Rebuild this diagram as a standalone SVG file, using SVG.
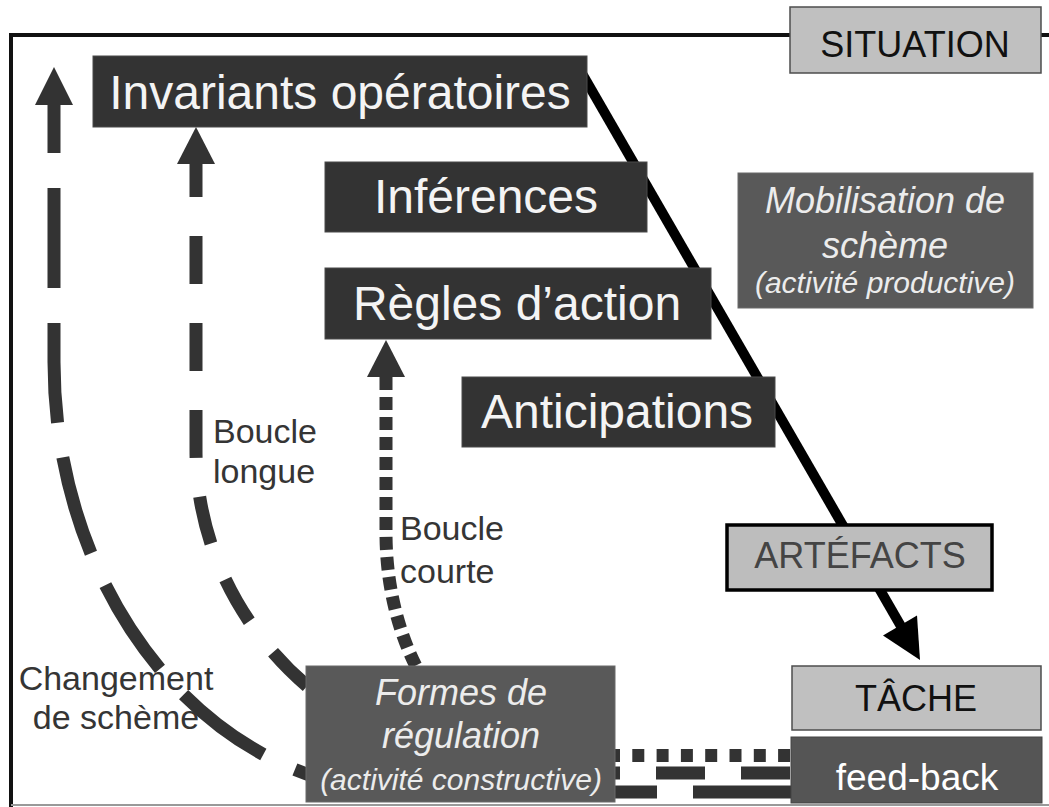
<svg xmlns="http://www.w3.org/2000/svg" width="1049" height="807" viewBox="0 0 1049 807">
<style>
.dk{fill:#333;stroke:#4a4a4a;stroke-width:1}
.md{fill:#595959;stroke:#6a6a6a;stroke-width:1}
.lt{fill:#c0c0c0;stroke:#4d4d4d;stroke-width:1.5}
text{font-family:"Liberation Sans",Arial,Helvetica,sans-serif}
.big{font-size:48px;fill:#f4f4f4;text-anchor:middle}
.cap{font-size:36px;text-anchor:middle}
.it{font-style:italic;fill:#ececec;text-anchor:middle;font-size:36px}
.sm{font-size:30px}
.lbl{font-size:34px;fill:#353535}
.dash{fill:none;stroke:#333;stroke-width:13}
.head{fill:#333}
</style>
<rect width="1049" height="807" fill="#fff"/>
<g id="frame" fill="none">
<path d="M1049,35 H11 V807" stroke="#111" stroke-width="4"/>
<path d="M11,805 H1049" stroke="#999" stroke-width="2"/>
</g>
<g id="connectors">
<path d="M580,70 L902,628" stroke="#000" stroke-width="10" fill="none"/>
<polygon points="920,660 883,635.5 917,615.5" fill="#000"/>
<path class="dash" d="M54,105 V362 A354,430 0 0 0 408,792" stroke-dasharray="100 35" stroke-dashoffset="52"/>
<path class="dash" d="M557,792 H795" stroke-dasharray="100 36" stroke-width="12"/>
<polygon class="head" points="54,67 35,105 73,105"/>
<path class="dash" d="M196,164 V450 A350,323 0 0 0 546,773" stroke-dasharray="48 39" stroke-dashoffset="15"/>
<path class="dash" d="M571,773 H795" stroke-dasharray="49 36" stroke-width="12"/>
<polygon class="head" points="196,127 177,164 215,164"/>
<path class="dash" d="M386,377 V533 A150,222 0 0 0 536,755" stroke-dasharray="13 7"/>
<path class="dash" d="M608,755.5 H795" stroke-dasharray="12 12.3"/>
<polygon class="head" points="386,340 367,377 405,377"/>
</g>
<g id="situation"><rect class="lt" x="790" y="7" width="251" height="66"/><text class="cap" x="915" y="57" fill="#111">SITUATION</text></g>
<g id="invariants"><rect class="dk" x="93" y="56" width="494" height="71"/><text class="big" x="340" y="109">Invariants opératoires</text></g>
<g id="inferences"><rect class="dk" x="325" y="162" width="322" height="70"/><text class="big" x="486" y="213">Inférences</text></g>
<g id="regles"><rect class="dk" x="325" y="268" width="386" height="71"/><text class="big" x="517" y="320">Règles d’action</text></g>
<g id="anticipations"><rect class="dk" x="462" y="377" width="313" height="70"/><text class="big" x="617" y="428">Anticipations</text></g>
<g id="mobilisation"><rect class="md" x="738" y="173" width="295" height="135"/>
<text class="it" x="885" y="213">Mobilisation de</text>
<text class="it" x="885" y="258">schème</text>
<text class="it sm" x="885" y="293">(activité productive)</text></g>
<g id="artefacts"><rect x="727" y="525" width="265" height="65" fill="#bdbdbd" stroke="#000" stroke-width="3.5"/><text class="cap" x="860" y="568" fill="#444">ARTÉFACTS</text></g>
<g id="tache"><rect class="lt" x="792" y="666" width="249" height="64"/><text class="cap" x="916" y="711" fill="#111">TÂCHE</text></g>
<g id="feedback"><rect x="791" y="737" width="251" height="66" fill="#555" stroke="#444" stroke-width="1"/><text x="917" y="790" font-size="37" fill="#fff" text-anchor="middle">feed-back</text></g>
<g id="formes"><rect class="md" x="306" y="666" width="309" height="136"/>
<text class="it" x="461" y="705">Formes de</text>
<text class="it" x="461" y="748">régulation</text>
<text class="it sm" x="461" y="790">(activité constructive)</text></g>
<g id="boucle-longue"><text class="lbl" x="213" y="443">Boucle</text><text class="lbl" x="213" y="483">longue</text></g>
<g id="boucle-courte"><text class="lbl" x="400" y="540">Boucle</text><text class="lbl" x="400" y="583">courte</text></g>
<g id="changement"><text class="lbl" x="116" y="690" text-anchor="middle">Changement</text><text class="lbl" x="116" y="729" text-anchor="middle">de schème</text></g>
</svg>
